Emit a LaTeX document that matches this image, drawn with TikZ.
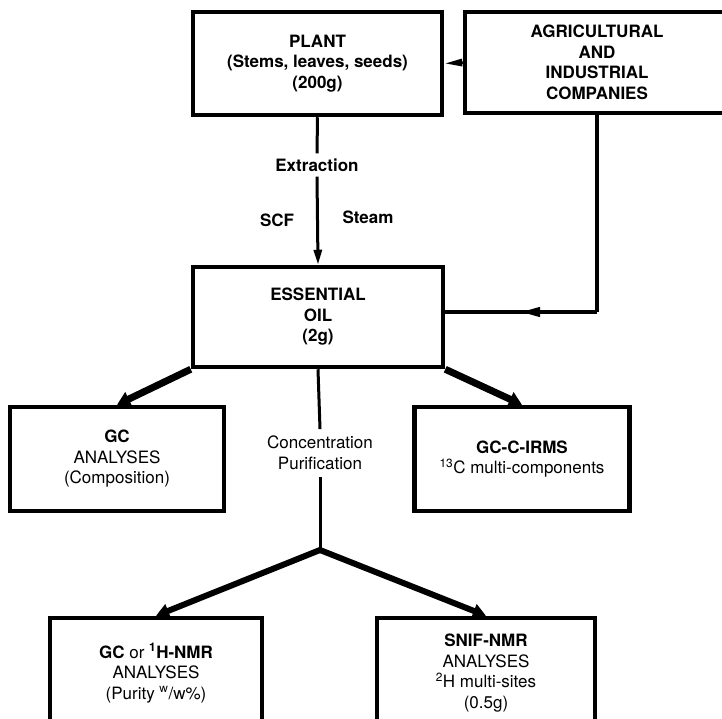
\documentclass[tikz,border=0pt]{standalone}
\usepackage{fontspec}
\setmainfont{TeX Gyre Heros}
\usetikzlibrary{arrows.meta,decorations.markings}
\newcommand\diagfont{\fontsize{17}{20.5}\selectfont}
\begin{document}
\begin{tikzpicture}[x=1pt,y=-1pt,
  box/.style={draw, line width=4.5pt, inner sep=0pt, align=center, font=\diagfont},
  lbl/.style={inner sep=6pt, align=center, font=\diagfont},
  medline/.style={line width=3pt},
  thinarrow/.style={line width=3pt, -{Triangle[length=15pt,width=8pt]}},
  fatarrow/.style={line width=7pt, -{Triangle[length=13pt,width=15pt]}},
  botarrow/.style={line width=6pt, -{Triangle[length=13pt,width=14pt]}},
  midarrow/.style={line width=4pt, postaction={decorate},
    decoration={markings, mark=at position 0.5 with {\arrow{Triangle[length=20pt,width=9pt]}}}}
]
\useasboundingbox (0,0) rectangle (722,719);

% boxes
\node[box, minimum width=249pt, minimum height=103pt, font=\diagfont\bfseries] (plant) at (317.5,63.5)
  {PLANT\\(Stems, leaves, seeds)\\(200g)};
\node[box, minimum width=264pt, minimum height=101pt, font=\diagfont\bfseries] (agri) at (597,62.5)
  {AGRICULTURAL\\AND\\INDUSTRIAL\\COMPANIES};
\node[box, minimum width=250pt, minimum height=100pt, font=\diagfont\bfseries] (oil) at (318,317)
  {ESSENTIAL\\OIL\\(2g)};
\node[box, minimum width=214pt, minimum height=104pt] (gc) at (117,459)
  {\textbf{GC}\\ANALYSES\\(Composition)};
\node[box, minimum width=215pt, minimum height=104pt] (irms) at (522,459)
  {\textbf{GC-C-IRMS}\\\textsuperscript{13}C multi-components};
\node[box, minimum width=212pt, minimum height=110pt] (lb) at (156,673)
  {\textbf{GC} or \textbf{\textsuperscript{1}H-NMR}\\ANALYSES\\(Purity \textsuperscript{w}/w\%)};
\node[box, minimum width=218pt, minimum height=110pt] (rb) at (486,673)
  {\textbf{SNIF-NMR}\\ANALYSES\\\textsuperscript{2}H multi-sites\\(0.5g)};

% labels
\node[lbl, font=\diagfont\bfseries, inner sep=5pt] (extr) at (317,165) {Extraction};
\node[lbl, font=\diagfont\bfseries] (scf) at (277,220) {SCF};
\node[lbl, font=\diagfont\bfseries] (steam) at (368,217) {Steam};
\node[lbl, inner sep=7pt] (conc) at (320,453) {Concentration\\Purification};

\coordinate (corner) at (597,312);
\coordinate (oilin) at (443,312);
\coordinate (branch) at (320,550);

% connectors
\draw[line width=3pt, -{Triangle[length=18pt,width=7pt]}] (agri.west) -- (plant.east);
\draw[medline] (plant.south) -- (extr.north);
\draw[thinarrow] (extr.south) -- (oil.north);
\draw[line width=4pt] (agri.south) -- (corner);
\draw[midarrow] (corner) -- (oilin);
\draw[fatarrow] (oil.south west) -- (gc.north);
\draw[fatarrow] (oil.south east) -- (irms.north);
\draw[medline] (oil.south) -- (conc.north);
\draw[medline] (conc.south) -- (branch);
\draw[botarrow] (branch) -- (lb.north);
\draw[botarrow] (branch) -- (rb.north);
\end{tikzpicture}
\end{document}
